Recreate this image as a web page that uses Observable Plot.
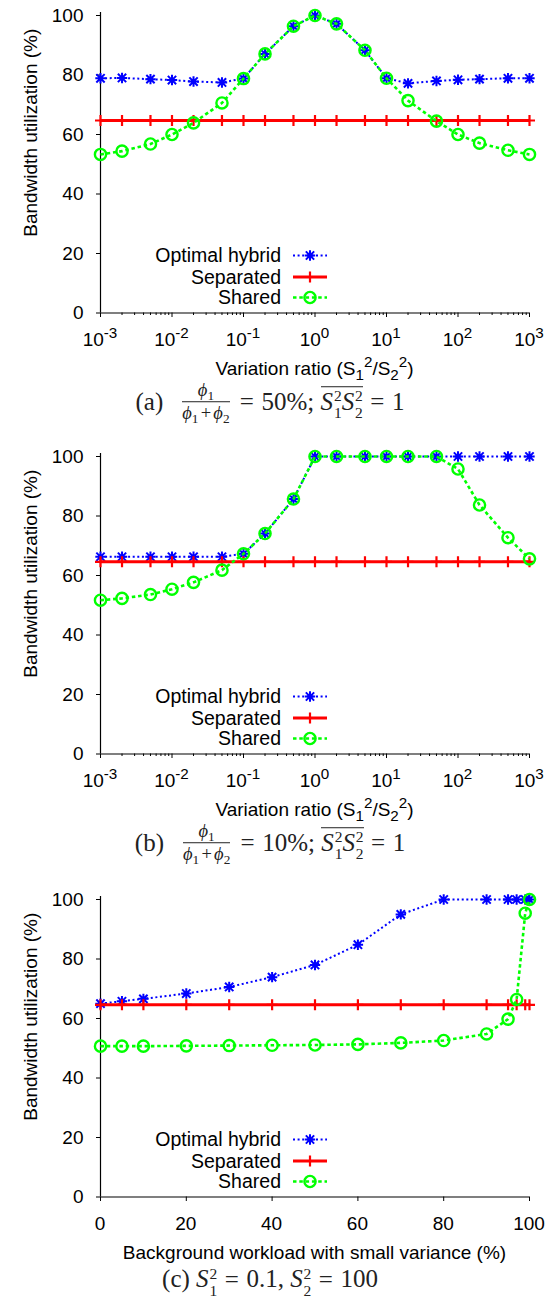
<!DOCTYPE html>
<html><head><meta charset="utf-8">
<script src="https://cdn.jsdelivr.net/npm/d3@7"></script>
<script src="https://cdn.jsdelivr.net/npm/@observablehq/plot@0.6"></script>
<style>
html,body{margin:0;padding:0;background:#fff;}
body{width:559px;height:1301px;position:relative;overflow:hidden;font-family:"Liberation Sans",Arial,sans-serif;}
.panel{position:absolute;left:0;width:559px;}
.cap{position:absolute;left:0;width:540px;text-align:center;font-family:"Liberation Serif","DejaVu Serif",serif;font-size:25px;color:#222;white-space:nowrap;transform:translateY(-50%);line-height:1;}
.cap i{font-style:italic;}
.eq{margin:0 0.3em;}
.frac{display:inline-flex;flex-direction:column;vertical-align:middle;font-size:0.74em;text-align:center;line-height:1.12;margin:0 0.15em 0 0.35em;position:relative;top:-0.12em;}
.frac .num{border-bottom:1.3px solid #222;padding:0 0.2em 0.04em;}
.frac .den{padding-top:0.02em;}
.pl{margin:0 0.12em;}
.cap sub{font-size:0.72em;vertical-align:-0.3em;line-height:0;}
.ss{display:inline-flex;flex-direction:column;font-size:0.62em;line-height:1.12;vertical-align:0.55em;margin-left:0.06em;}
.ov{display:inline-block;border-top:1.3px solid #222;padding-top:0;line-height:1;}
</style></head><body>
<div id="root"></div>
<script>
// ---------- data ----------
const seriesNames = ["Optimal hybrid", "Separated", "Shared"];

// panels (a) and (b): variation ratio S1^2/S2^2 (log scale)
const ratioX = [0.001, 0.002, 0.005, 0.01, 0.02, 0.05, 0.1, 0.2, 0.5, 1, 2, 5, 10, 20, 50, 100, 200, 500, 1000];

const hybridA    = [78.9, 79.0, 78.6, 78.3, 77.8, 77.5, 78.8, 87.1, 96.4, 100, 97.2, 88.3, 78.9, 77.2, 78.0, 78.4, 78.6, 78.9, 78.9];
const separatedA = [64.7, 64.7, 64.7, 64.7, 64.7, 64.7, 64.7, 64.7, 64.7, 64.7, 64.7, 64.7, 64.7, 64.7, 64.7, 64.7, 64.7, 64.7, 64.7];
const sharedA    = [53.3, 54.4, 56.8, 60.0, 63.9, 70.6, 78.8, 87.1, 96.4, 100, 97.2, 88.3, 78.9, 71.4, 64.5, 60.0, 57.1, 54.7, 53.3];

const hybridB    = [66.3, 66.3, 66.3, 66.3, 66.3, 66.3, 67.3, 74.1, 85.7, 100, 100, 100, 100, 100, 100, 100, 100, 100, 100];
const separatedB = [64.6, 64.6, 64.6, 64.6, 64.6, 64.6, 64.6, 64.6, 64.6, 64.6, 64.6, 64.6, 64.6, 64.6, 64.6, 64.6, 64.6, 64.6, 64.6];
const sharedB    = [51.7, 52.3, 53.6, 55.4, 57.7, 61.8, 67.3, 74.1, 85.7, 100, 100, 100, 100, 100, 100, 95.8, 83.7, 72.7, 65.6];

// panel (c): background workload with small variance (%)
const workloadX  = [0, 5, 10, 20, 30, 40, 50, 60, 70, 80, 90, 95, 97, 99, 100];
const hybridC    = [65.0, 65.8, 66.6, 68.4, 70.6, 73.9, 78.0, 84.8, 95.0, 100, 100, 100, 100, 100, 100];
const separatedC = [64.6, 64.6, 64.6, 64.6, 64.6, 64.6, 64.6, 64.6, 64.6, 64.6, 64.6, 64.6, 64.6, 64.6, 64.6];
const sharedC    = [50.7, 50.7, 50.7, 50.8, 50.9, 51.0, 51.1, 51.3, 51.8, 52.6, 54.8, 59.8, 66.4, 95.4, 100];

// ticks
const yTicks = [0, 20, 40, 60, 80, 100];
const logTicks = [0.001, 0.01, 0.1, 1, 10, 100, 1000];
const logTickExponents = ["-3", "-2", "-1", "0", "1", "2", "3"];
const linTicks = [0, 20, 40, 60, 80, 100];
const linTickLabels = ["0", "20", "40", "60", "80", "100"];

const yTitle = "Bandwidth utilization (%)";
const xTitleC = "Background workload with small variance (%)";

// ---------- styles ----------
const FONT = "'Liberation Sans', Arial, sans-serif";
const FS = 19;
const LFS = 19.5;
const gpStar = {draw(c, size){const h = Math.sqrt(size / Math.PI);
  c.moveTo(-h,0);c.lineTo(h,0);c.moveTo(0,-h);c.lineTo(0,h);
  const d = h*0.8; c.moveTo(-d,-d);c.lineTo(d,d);c.moveTo(-d,d);c.lineTo(d,-d);}};
const gpPlus = {draw(c, size){const h = Math.sqrt(size / Math.PI);
  c.moveTo(-h,0);c.lineTo(h,0);c.moveTo(0,-h);c.lineTo(0,h);}};
const seriesStyle = [
  {color:"#0000ff", width:2, dash:"2,2.6", symbol:gpStar, r:5.2, sw:2},
  {color:"#ff0000", width:3, dash:null, symbol:gpPlus, r:5.5, sw:2.2},
  {color:"#00ff00", width:2.6, dash:"3.5,2.8", symbol:"circle", r:5.6, sw:2.4}
];

function makePanel({top, xVals, series, log, xTitleNode, captionHTML, captionY}) {
  const frameTop = 15, frameBottom = 312.5;
  const H = 390;
  const rows = series.map((vals, i) => xVals.map((x, j) => ({series: seriesNames[i], x, y: vals[j]})));
  const minor = log ? d3.range(-3, 3).flatMap(e => [2,3,4,5,6,7,8,9].map(m => m * Math.pow(10, e))) : [];
  const marks = [
    Plot.axisY({ticks: yTicks, tickSize: 4, tickPadding: 13, label: null, fontSize: FS, stroke: "#000"}),
    log ? Plot.axisX({ticks: minor, tickSize: 2.5, tickFormat: () => "", label: null}) : null,
    Plot.axisX({ticks: log ? logTicks : linTicks, tickSize: 4.5, tickFormat: () => "", label: null}),
    Plot.ruleY([0], {stroke: "#000", strokeWidth: 1.2}),
    Plot.ruleX([log ? 1e-3 : 0], {stroke: "#000", strokeWidth: 1.2, y1: 0, y2: 101})
  ];
  rows.forEach((data, i) => {
    const s = seriesStyle[i];
    marks.push(Plot.line(data, {x: "x", y: "y", stroke: s.color, strokeWidth: s.width, strokeDasharray: s.dash, strokeLinecap: "butt"}));
    marks.push(Plot.dot(data, {x: "x", y: "y", symbol: s.symbol, r: s.r, fill: "none", stroke: s.color, strokeWidth: s.sw}));
  });
  const svg = Plot.plot({
    width: 559, height: H,
    marginTop: frameTop, marginBottom: H - frameBottom, marginLeft: 100, marginRight: 30,
    x: log ? {type: "log", domain: [1e-3, 1e3]} : {domain: [0, 100]},
    y: {domain: [0, 100]},
    style: {fontFamily: FONT, fontSize: FS + "px", color: "#000", background: "transparent", overflow: "visible"},
    marks
  });
  const xs = svg.scale("x");
  const sel = d3.select(svg);
  // x tick labels
  const g = sel.append("g").attr("font-family", FONT).attr("font-size", FS).attr("fill", "#000");
  if (log) {
    logTicks.forEach((v, i) => {
      const t = g.append("text").attr("x", xs.apply(v)).attr("y", frameBottom + 33).attr("text-anchor", "middle");
      t.append("tspan").text("10");
      t.append("tspan").attr("dy", -8).attr("font-size", FS * 0.8).text(logTickExponents[i]);
    });
  } else {
    linTicks.forEach((v, i) => {
      g.append("text").attr("x", xs.apply(v)).attr("y", frameBottom + 33).attr("text-anchor", "middle").text(linTickLabels[i]);
    });
  }
  // x title
  const xt = g.append("text").attr("x", (100 + 529) / 2).attr("y", frameBottom + 62).attr("text-anchor", "middle");
  xTitleNode(xt);
  // y title
  g.append("text").attr("transform", `translate(30,${(frameTop + frameBottom) / 2 - 31}) rotate(-90)`)
    .attr("text-anchor", "middle").attr("dy", "0.35em").text(yTitle);
  // legend
  const lg = sel.append("g").attr("font-family", FONT).attr("font-size", LFS);
  const rowOff = [57, 35.5, 15];
  seriesNames.forEach((name, i) => {
    const s = seriesStyle[i];
    const y = frameBottom - rowOff[i];
    lg.append("text").attr("x", 281).attr("y", y).attr("dy", "0.35em").attr("text-anchor", "end").text(name);
    lg.append("line").attr("x1", 293).attr("x2", 327).attr("y1", y).attr("y2", y)
      .attr("stroke", s.color).attr("stroke-width", s.width).attr("stroke-dasharray", s.dash);
    const sym = typeof s.symbol === "string" ? d3.symbolCircle : s.symbol;
    lg.append("path").attr("transform", `translate(310,${y})`)
      .attr("d", d3.symbol(sym, Math.PI * s.r * s.r)())
      .attr("fill", "none").attr("stroke", s.color).attr("stroke-width", s.sw);
  });

  const div = document.createElement("div");
  div.className = "panel";
  div.style.top = top + "px";
  div.appendChild(svg);
  document.getElementById("root").appendChild(div);

  const cap = document.createElement("div");
  cap.className = "cap";
  cap.style.top = captionY + "px";
  cap.innerHTML = captionHTML;
  document.getElementById("root").appendChild(cap);
}

function ratioTitle(t) {
  t.append("tspan").text("Variation ratio (S");
  t.append("tspan").attr("dy", 5).attr("font-size", FS * 0.8).text("1");
  t.append("tspan").attr("dy", -13).attr("font-size", FS * 0.8).text("2");
  t.append("tspan").attr("dy", 8).text("/S");
  t.append("tspan").attr("dy", 5).attr("font-size", FS * 0.8).text("2");
  t.append("tspan").attr("dy", -13).attr("font-size", FS * 0.8).text("2");
  t.append("tspan").attr("dy", 8).text(")");
}

const ssHTML = (sup, sub) => `<i>S</i><span class="ss"><span>${sup}</span><span>${sub}</span></span>`;
const fracHTML = `<span class="frac"><span class="num"><i>ϕ</i><sub>1</sub></span><span class="den"><i>ϕ</i><sub>1</sub><span class="pl">+</span><i>ϕ</i><sub>2</sub></span></span>`;
const eq = `<span class="eq">=</span>`;

makePanel({
  top: 0, xVals: ratioX, series: [hybridA, separatedA, sharedA], log: true,
  xTitleNode: ratioTitle,
  captionHTML: `(a)&nbsp; ${fracHTML}${eq}50%; <span class="ov">${ssHTML("2","1")}${ssHTML("2","2")}</span>${eq}1`,
  captionY: 404
});
makePanel({
  top: 441, xVals: ratioX, series: [hybridB, separatedB, sharedB], log: true,
  xTitleNode: ratioTitle,
  captionHTML: `(b)&nbsp; ${fracHTML}${eq}10%; <span class="ov">${ssHTML("2","1")}${ssHTML("2","2")}</span>${eq}1`,
  captionY: 845
});
makePanel({
  top: 883.5, xVals: workloadX, series: [hybridC, separatedC, sharedC], log: false,
  xTitleNode: t => t.text(xTitleC),
  captionHTML: `(c) ${ssHTML("2","1")}${eq}0.1, ${ssHTML("2","2")}${eq}100`,
  captionY: 1282
});
</script>
</body></html>
